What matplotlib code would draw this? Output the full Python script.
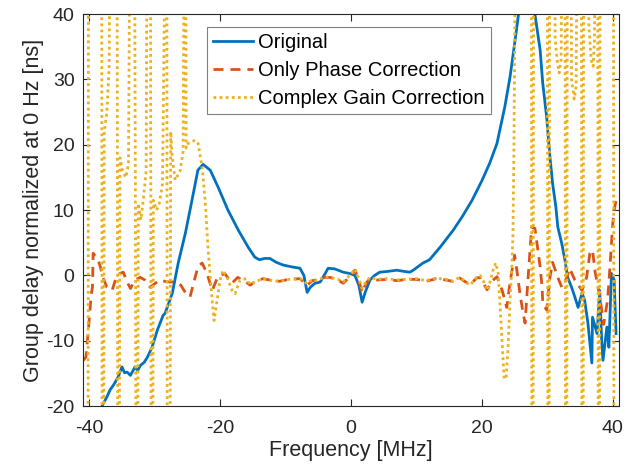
import matplotlib
matplotlib.use("Agg")
import matplotlib.pyplot as plt

# -------- Data --------
orig_f = [-38.3, -38.0, -37.3, -36.8, -36.3, -35.6, -35.0, -34.6, -34.2, -33.7, -33.0, -32.6,
          -32.2, -31.6, -31.1, -30.4, -29.6, -28.7, -28.4, -27.3, -26.4, -25.3, -24.3, -23.4,
          -22.6, -21.5, -20.3, -18.8, -17.2, -15.7, -14.7, -14.0, -13.2, -12.4, -11.4, -10.4,
          -9.0, -7.8, -7.2, -6.7, -6.2, -5.5, -4.7, -4.0, -3.5, -2.5, -1.2, -0.2, 0.6, 1.2,
          1.7, 2.2, 2.9, 3.6, 4.4, 5.5, 7.0, 8.2, 9.0, 9.5, 11.0, 12.0, 13.6, 15.6, 17.0,
          18.5, 20.0, 21.2, 22.3, 23.5, 24.3, 25.0, 25.6, 26.3, 27.0, 27.6, 28.1, 28.9, 29.3,
          29.9, 30.4, 30.8, 31.3, 31.6, 32.2, 32.7, 33.1, 33.7, 34.2, 34.7, 35.3, 35.7, 36.2,
          36.8, 36.9, 37.6, 38.0, 38.3, 38.5, 39.1, 39.4, 39.8, 40.2, 40.5]
orig_v = [-22.0, -19.9, -18.6, -17.5, -16.8, -15.6, -14.0, -14.9, -14.8, -15.3, -14.0, -14.6,
          -13.8, -13.3, -12.5, -11.0, -8.4, -6.1, -5.8, -2.7, 1.9, 6.5, 11.5, 16.1,
          17.0, 16.1, 13.5, 10.0, 6.9, 4.3, 2.8, 2.4, 2.6, 2.6, 2.0, 1.6,
          1.3, 1.1, 0.0, -2.6, -1.8, -1.2, -1.0, 0.2, 1.1, 1.0, 0.5, 0.3, 0.0, -1.5,
          -4.1, -2.5, -0.7, 0.0, 0.5, 0.6, 0.8, 0.6, 0.5, 0.8, 1.9, 2.4, 4.3, 6.9, 9.0,
          11.5, 14.5, 17.2, 20.2, 25.8, 30.4, 35.5, 40.0, 48.0, 52.0, 46.0, 40.0, 34.5, 29.4,
          24.2, 18.1, 14.1, 10.5, 7.4, 4.9, 2.3, -0.3, -1.8, -3.3, -4.9, -2.7, -3.8, -7.3,
          -13.4, -6.4, -8.9, -2.3, -9.9, -13.0, -7.9, -11.0, 0.3, -0.7, -8.9]

phase_f = [-40.9, -40.5, -40.1, -39.7, -39.5, -39.4, -39.1, -38.6, -38.3, -37.9, -37.3, -36.5,
           -36.0, -35.3, -34.8, -34.2, -33.7, -33.0, -32.2, -31.5, -30.7, -29.9, -29.2, -28.1,
           -27.0, -26.0, -25.2, -24.6, -24.0, -23.4, -22.75, -22.0, -21.2, -20.4, -19.3, -18.2,
           -17.3, -15.8, -15.4, -14.5, -13.4, -12.0, -10.9, -9.5, -7.8, -6.7, -5.9, -5.2,
           -4.0, -3.2, -2.0, -1.2, 0.0, 0.6, 1.2, 1.7, 2.3, 2.9, 4.0, 5.5, 7.0, 8.5, 10.0,
           11.5, 13.0, 14.5, 15.5, 16.6, 17.5, 18.2, 19.2, 19.7, 20.8, 21.6, 22.3, 23.1, 23.8,
           24.3, 25.0, 25.5, 25.8, 26.3, 26.6, 27.0, 27.6, 28.1, 28.5, 28.9, 29.2, 29.3, 29.9,
           30.4, 30.8, 31.6, 32.2, 33.0, 33.4, 34.2, 35.3, 36.0, 36.5, 36.9, 37.3, 37.7, 38.1,
           38.6, 39.2, 39.5, 39.8, 40.0, 40.3, 40.6]
phase_v = [-13.0, -12.5, -8.0, -3.0, -1.8, 3.4, 3.0, 2.3, 1.3, -0.3, -1.8, -2.3,
           -0.7, 0.3, 0.5, -1.0, -2.0, -0.7, -0.3, -0.7, -1.8, -1.2, -0.7, -1.0,
           -1.0, -1.5, -2.8, -3.3, -1.0, 1.3, 1.9, 0.3, -2.3, -0.3, 0.3, -1.2,
           -0.3, -1.2, -1.5, -0.8, -0.5, -0.8, -0.9, -0.6, -0.5, -1.5, -0.8, -0.7,
           -0.3, -0.3, -0.7, -1.2, 0.0, 0.8, -0.8, -2.6, -1.2, -0.5, -0.7, -0.6, -0.8, -0.6, -0.6,
           -0.9, -0.5, -0.7, -0.9, -0.4, -1.0, -1.4, -0.4, -0.3, -2.2, -0.8, -0.2, -2.3, -4.9,
           -1.0, 3.1, -0.3, -2.7, -5.8, -7.3, -1.2, 7.4, 7.2, 4.3, 1.3, -1.8, -4.3, -5.3,
           -0.3, 2.0, -0.3, -1.8, -0.3, 1.1, -0.7, -2.3, -0.3, 3.4, 3.9, 0.5, -1.5, -3.8,
           -7.5, -3.8, 0.3, 4.9, 8.0, 10.5, 12.0]

gain_f = [-40.96, -40.2, -40.1, -38.1, -38.0, -37.85, -37.7, -37.3, -36.95, -36.8, -35.75, -35.6,
          -35.45, -35.3, -34.9, -34.4, -34.0, -33.75, -33.1, -32.95, -32.8, -32.65, -32.5, -32.1,
          -31.8, -31.3, -31.15, -30.65, -30.5, -30.35, -30.2, -29.7, -29.3, -28.8, -28.3, -28.15,
          -28.05, -27.7, -27.55, -27.3, -26.87, -26.11, -25.65, -25.45, -25.25, -25.19, -24.89, -23.82,
          -23.36, -22.75, -22.29, -21.83, -21.22, -20.92, -20.46, -20.0, -19.54, -18.93, -18.17, -17.71,
          -16.95, -16.0, -15.4, -14.5, -13.4, -12.0, -10.9, -9.5, -7.8, -6.7, -5.9, -5.2,
          -4.0, -3.2, -2.0, -1.2, 0.0, 0.6, 1.2, 1.7, 2.3, 2.9, 4.0, 5.5, 7.0, 8.5, 10.0,
          11.5, 13.0, 14.5, 15.5, 16.6, 17.5, 18.2, 19.2, 19.7, 20.2, 20.9, 21.7, 22.1, 22.5,
          22.7, 23.0, 23.4, 23.7, 24.0, 24.3, 24.6, 24.75, 24.9, 25.05, 25.1,
          27.55, 27.65, 27.8, 27.9, 30.0, 30.1, 30.25, 30.35, 31.1, 31.2, 31.5, 31.8, 32.1, 32.3,
          32.7, 32.8, 32.95, 33.05, 33.6, 33.7, 34.1, 34.4, 34.6, 35.2, 35.3, 35.45, 35.55,
          36.2, 36.35, 36.7, 37.0, 37.2, 37.35, 37.7, 37.8, 37.95, 38.05, 40.1, 40.2, 40.96]
gain_v = [-60, -60, 60, 60, -60, -60, 22, 25, 32, 60, 60, -60,
          -60, 18, 16, 15, 17, 60, 60, 14.5, -60, -60, 11, 8.5,
          11, 16, 60, 60, -60, -60, 11.5, 10, 11, 14, 60, 60,
          -60, -60, 22, 18, 14.6, 16, 19, 60, 60, 19.5, 20.2, 20.7,
          20.2, 16.6, 11.5, 3.9, -3.8, -6.9, -3.8, -0.7, 0.8, -0.3, -2.3, -2.8,
          -0.7, -0.5, -1.4, -0.9, -0.5, -0.8, -0.9, -0.6, -0.5, -1.3, -0.6, -0.8,
          -0.2, -0.3, -0.6, -1.0, 0.2, 1.0, -0.5, -2.0, -1.0, -0.3, -0.6, -0.5, -0.7, -0.6, -0.5,
          -0.8, -0.4, -0.6, -0.9, -0.3, -1.0, -1.5, -0.3, 0.0, -0.8, -2.3, 0.8, 1.9, 0.3,
          -3.3, -8.4, -15.8, -15.8, -11, -3.8, 1.9, 6.5, 20, 40, 60,
          60, -60, -60, 60, 60, -60, -60, 60, 60, 36, 33, 31, 33, 60,
          60, -60, -60, 60, 60, 30, 27, 29, 60, 60, -60, -60, 60,
          60, 38, 33, 32, 36, 60, 60, -60, -60, 60, 60, -60, -60]

labels = ["Original", "Only Phase Correction", "Complex Gain Correction"]
colors = ["#0072BD", "#D95319", "#EDB120"]

# -------- Plot --------
plt.rcParams["font.family"] = ["Liberation Sans", "DejaVu Sans"]
plt.rcParams["axes.unicode_minus"] = False
fig = plt.figure(figsize=(6.33, 4.70), dpi=100)
ax = fig.add_axes([0.131, 0.136, 0.847, 0.834])

ax.plot(orig_f, orig_v, color=colors[0], lw=2.0, label=labels[0])
ax.plot(phase_f, phase_v, color=colors[1], lw=2.0, dashes=(3.6, 2.5), label=labels[1])
ax.plot(gain_f, gain_v, color=colors[2], lw=2.0, dashes=(1.0, 1.2), label=labels[2])

ax.set_xlim(-40.96, 40.96)
ax.set_ylim(-20, 40)
ax.set_xticks([-40, -20, 0, 20, 40])
ax.set_yticks([-20, -10, 0, 10, 20, 30, 40])

axcol = "#262626"
ax.tick_params(direction="in", top=True, right=True, length=5, width=0.8,
               colors=axcol, labelsize=14)
ax.tick_params(axis="x", pad=10)
ax.tick_params(axis="y", pad=6)
for s in ax.spines.values():
    s.set_color(axcol)
    s.set_linewidth(0.8)

ax.set_xlabel("Frequency [MHz]", fontsize=15.5, color=axcol, labelpad=2)
ax.set_ylabel("Group delay normalized at 0 Hz [ns]", fontsize=15.5, color=axcol, labelpad=2)

leg = ax.legend(loc="upper left", bbox_to_anchor=(0.231, 0.967), borderaxespad=0,
                fontsize=14.5, handlelength=2.0, handletextpad=0.25, labelspacing=0.45,
                borderpad=0.3, fancybox=False, framealpha=1)
leg.get_frame().set_edgecolor("#808080")
leg.get_frame().set_linewidth(0.8)

fig.savefig("out.png", dpi=100)
